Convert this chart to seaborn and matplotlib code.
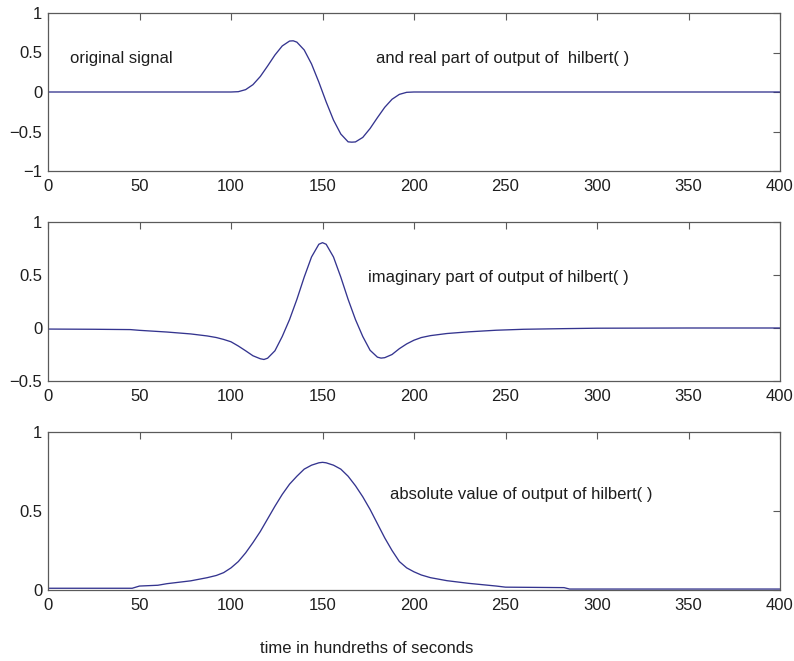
import matplotlib
matplotlib.use("Agg")
import matplotlib.pyplot as plt
import seaborn as sns
import pandas as pd
from matplotlib.ticker import FuncFormatter

# ---- data ----
real_t = [0, 100, 104, 108, 112, 116, 120, 124, 128, 132, 134, 136, 140, 144, 148,
          152, 156, 160, 164, 166, 168, 172, 176, 180, 184, 188, 192, 196, 200, 400]
real_v = [0, 0, 0.004, 0.03, 0.093, 0.196, 0.329, 0.468, 0.583, 0.645, 0.648, 0.631,
          0.532, 0.355, 0.125, -0.125, -0.355, -0.532, -0.631, -0.635, -0.632, -0.575,
          -0.462, -0.325, -0.194, -0.092, -0.03, -0.004, 0, 0]

imag_t = [0, 25, 45, 50, 65, 78, 87, 92, 96, 100, 104, 108, 112, 116, 118, 120,
          124, 128, 132, 136, 140, 144, 148, 150, 152, 156, 160, 164, 168, 172,
          176, 180, 182, 184, 188, 192, 196, 200, 204, 209, 218, 230, 245, 260,
          282, 300, 350, 400]
imag_v = [-0.01, -0.012, -0.015, -0.022, -0.038, -0.056, -0.075, -0.09, -0.108,
          -0.13, -0.17, -0.215, -0.262, -0.29, -0.297, -0.285, -0.215, -0.08,
          0.08, 0.27, 0.48, 0.67, 0.79, 0.805, 0.79, 0.67, 0.48, 0.27, 0.08,
          -0.08, -0.21, -0.275, -0.284, -0.28, -0.25, -0.195, -0.15, -0.115,
          -0.09, -0.072, -0.052, -0.036, -0.021, -0.012, -0.006, -0.002, 0.0, 0.0]

env_t = [0, 46, 50, 60, 65, 78, 87, 92, 96, 100, 104, 108, 112, 116, 120, 124,
         128, 132, 136, 140, 144, 148, 150, 152, 156, 160, 164, 168, 172, 176,
         180, 184, 188, 192, 196, 200, 204, 209, 218, 230, 245, 250, 282, 285, 400]
env_v = [0.011, 0.011, 0.025, 0.03, 0.04, 0.058, 0.078, 0.092, 0.11, 0.14, 0.18,
         0.235, 0.30, 0.37, 0.45, 0.53, 0.605, 0.67, 0.72, 0.765, 0.79, 0.805,
         0.808, 0.805, 0.79, 0.765, 0.72, 0.66, 0.59, 0.51, 0.42, 0.33, 0.25,
         0.18, 0.14, 0.115, 0.095, 0.078, 0.059, 0.042, 0.025, 0.018, 0.015,
         0.006, 0.006]

x_ticks = [0, 50, 100, 150, 200, 250, 300, 350, 400]
y_ticks_1 = [-1, -0.5, 0, 0.5, 1]
y_ticks_2 = [-0.5, 0, 0.5, 1]
y_ticks_3 = [0, 0.5, 1]

label_1a = "original signal"
label_1b = "and real part of output of  hilbert( )"
label_2 = "imaginary part of output of hilbert( )"
label_3 = "absolute value of output of hilbert( )"
x_label = "time in hundreths of seconds"

# ---- style ----
sns.set_theme(style="white")
plt.rcParams["font.family"] = ["Liberation Sans", "DejaVu Sans"]
plt.rcParams["axes.unicode_minus"] = True

LINE = "#34348f"
SPINE = "#5a5a5a"
TEXT = "#1e1e1e"
FS = 12

fig = plt.figure(figsize=(7.94, 6.61), dpi=100)
left, width = 48 / 794, 732 / 794
rects = [
    (left, 1 - 171 / 661, width, 158 / 661),
    (left, 1 - 381 / 661, width, 159 / 661),
    (left, 1 - 590 / 661, width, 158 / 661),
]
axes = [fig.add_axes(r) for r in rects]

fmt = FuncFormatter(lambda v, p: ("%g" % v).replace("-", "\u2212"))

datasets = [
    (real_t, real_v, (-1, 1), y_ticks_1),
    (imag_t, imag_v, (-0.5, 1), y_ticks_2),
    (env_t, env_v, (0, 1), y_ticks_3),
]

for ax, (t, v, ylim, yt) in zip(axes, datasets):
    df = pd.DataFrame({"t": t, "v": v})
    sns.lineplot(data=df, x="t", y="v", ax=ax, color=LINE, linewidth=0.95,
                 estimator=None, sort=False)
    ax.set_xlim(0, 400)
    ax.set_ylim(*ylim)
    ax.set_xticks(x_ticks)
    ax.set_yticks(yt)
    ax.xaxis.set_major_formatter(fmt)
    ax.yaxis.set_major_formatter(fmt)
    ax.set_xlabel("")
    ax.set_ylabel("")
    ax.tick_params(direction="in", top=True, right=True, length=5, width=0.8,
                   color=SPINE, labelsize=FS, labelcolor=TEXT)
    ax.tick_params(axis="x", pad=6)
    ax.tick_params(axis="y", pad=4)
    for s in ax.spines.values():
        s.set_visible(True)
        s.set_color(SPINE)
        s.set_linewidth(0.9)
    ax.set_facecolor("white")
    ax.grid(False)

axes[0].text(12, 0.373, label_1a, fontsize=FS, color=TEXT, va="baseline", ha="left")
axes[0].text(179, 0.373, label_1b, fontsize=FS, color=TEXT, va="baseline", ha="left")
axes[1].text(175, 0.437, label_2, fontsize=FS, color=TEXT, va="baseline", ha="left")
axes[2].text(187, 0.576, label_3, fontsize=FS, color=TEXT, va="baseline", ha="left")

fig.text(260 / 794, 1 - 653 / 661, x_label, fontsize=FS, color=TEXT,
         va="baseline", ha="left")

fig.savefig("out.png", dpi=100, facecolor="white")
